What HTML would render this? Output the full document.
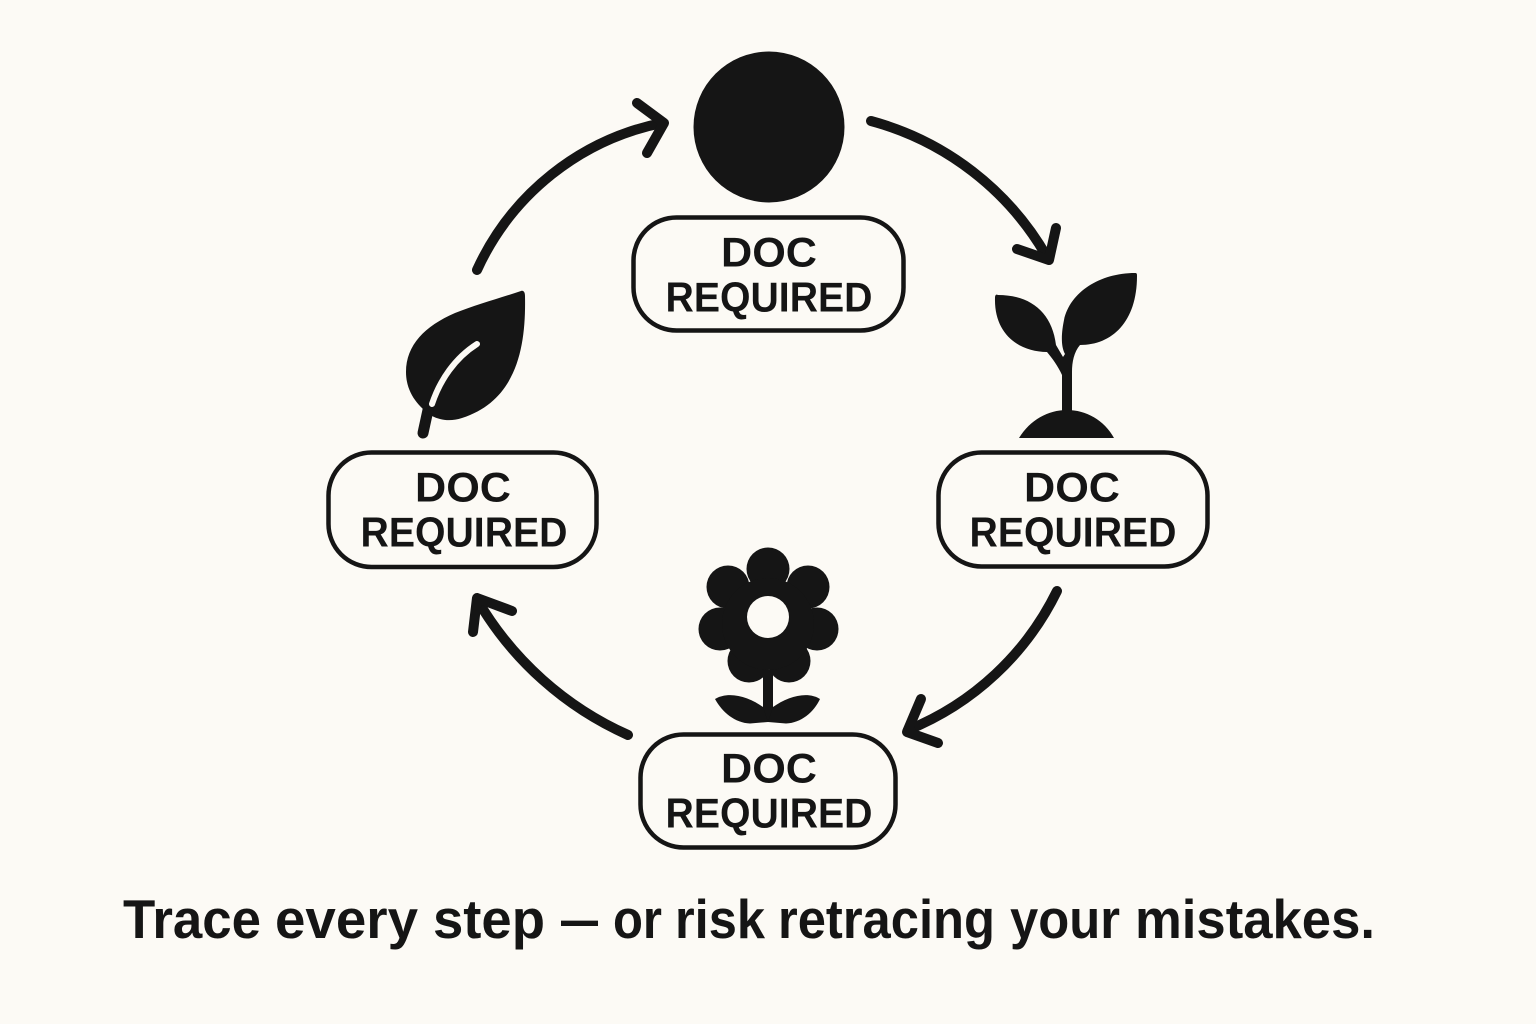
<!DOCTYPE html>
<html>
<head>
<meta charset="utf-8">
<style>
html,body{margin:0;padding:0;background:#fcfaf5;}
svg{display:block;}
text{font-family:"Liberation Sans",sans-serif;font-weight:700;fill:#151515;}
</style>
</head>
<body>
<svg width="1536" height="1024" viewBox="0 0 1536 1024" xmlns="http://www.w3.org/2000/svg">
<rect width="1536" height="1024" fill="#fcfaf5"/>
<!-- Seed -->
<circle cx="769" cy="127" r="75.500" fill="#151515"/>
<!-- Boxes -->
<g fill="none" stroke="#151515" stroke-width="4.500">
<rect x="633.500" y="217.500" width="270" height="113" rx="43"/>
<rect x="938.500" y="452.500" width="269" height="114" rx="43"/>
<rect x="328.500" y="452.500" width="268" height="114.500" rx="43"/>
<rect x="640.500" y="734.500" width="255" height="113" rx="43"/>
</g>
<!-- Box labels -->
<g font-size="41.500" text-anchor="middle">
<text x="769" y="266.500" textLength="96" lengthAdjust="spacingAndGlyphs">DOC</text>
<text x="769" y="311.500" textLength="207" lengthAdjust="spacingAndGlyphs">REQUIRED</text>
<text x="1072" y="501.500" textLength="96" lengthAdjust="spacingAndGlyphs">DOC</text>
<text x="1073" y="546.500" textLength="207" lengthAdjust="spacingAndGlyphs">REQUIRED</text>
<text x="463" y="501.500" textLength="96" lengthAdjust="spacingAndGlyphs">DOC</text>
<text x="464" y="546.500" textLength="207" lengthAdjust="spacingAndGlyphs">REQUIRED</text>
<text x="769" y="782.500" textLength="96" lengthAdjust="spacingAndGlyphs">DOC</text>
<text x="769" y="827.500" textLength="207" lengthAdjust="spacingAndGlyphs">REQUIRED</text>
</g>
<!-- Arrows -->
<g fill="none" stroke="#151515" stroke-width="10" stroke-linecap="round" stroke-linejoin="round">
<path d="M871 121 A290 290 0 0 1 1047 257"/>
<path d="M1056 228 L1049 260 L1017 249"/>
<path d="M1057 591 A285 285 0 0 1 908 730"/>
<path d="M921 699 L907 732 L938 743"/>
<path d="M628 735 A330 330 0 0 1 478 601"/>
<path d="M473 632 L477 598 L512 611"/>
<path d="M477 270 A260 260 0 0 1 662 123"/>
<path d="M637 103 L664 123 L647 153"/>
</g>
<!-- Sprout -->
<g fill="#151515">
<path d="M1019 438 C1030 420 1048 410 1067 410 C1086 410 1104 420 1114 438 Z"/>
<path d="M1062 414 L1062 375 C1058 366 1052 358 1047 352 C1020 352 994 335 995 298 C995 295 996 294 998 295 C1030 295 1052 312 1056 345 L1063 357 L1065 354 C1060 345 1062 330 1064 320 C1070 292 1100 273 1135 273 C1137 273 1137 274 1137 276 C1137 322 1112 345 1080 345 C1074 352 1072 362 1072 372 L1072 414 Z"/>
</g>
<!-- Leaf -->
<path d="M521 291 C524 290 525 293 525 296 C526 345 518 400 462 418 C450 422 440 420 432 416 C420 408 406 394 406 372 C406 345 425 326 455 313 C475 305 500 298 521 291 Z" fill="#151515"/>
<path d="M428 410 L423 433" fill="none" stroke="#151515" stroke-width="11" stroke-linecap="round"/>
<path d="M432 404 C440 380 455 358 477 344" fill="none" stroke="#fcfaf5" stroke-width="6" stroke-linecap="round"/>
<!-- Flower -->
<g fill="#151515">
<circle cx="768" cy="569" r="21.500"/>
<circle cx="728" cy="587" r="21.500"/>
<circle cx="808" cy="587" r="21.500"/>
<circle cx="720" cy="629" r="21.500"/>
<circle cx="817" cy="629" r="21.500"/>
<circle cx="749" cy="661" r="21.500"/>
<circle cx="789" cy="661" r="21.500"/>
<circle cx="768" cy="624" r="46"/>
<rect x="763" y="670" width="10" height="52"/>
<path d="M715 699 C728 691 748 696 763 707 L768 722 L750 723.500 C735 723 722 712 715 699 Z"/>
<path d="M820 699 C808 691 788 696 773 707 L768 722 L786 723.500 C801 723 814 712 820 699 Z"/>
</g>
<circle cx="768" cy="617" r="21" fill="#fcfaf5"/>
<!-- Caption -->
<g font-size="55">
<text x="123" y="938" textLength="138" lengthAdjust="spacingAndGlyphs">Trace</text>
<text x="275" y="938" textLength="143" lengthAdjust="spacingAndGlyphs">every</text>
<text x="433" y="938" textLength="112" lengthAdjust="spacingAndGlyphs">step</text>
<text x="561" y="938" textLength="37" lengthAdjust="spacingAndGlyphs">—</text>
<text x="613" y="938" textLength="49" lengthAdjust="spacingAndGlyphs">or</text>
<text x="675" y="938" textLength="90" lengthAdjust="spacingAndGlyphs">risk</text>
<text x="778" y="938" textLength="217" lengthAdjust="spacingAndGlyphs">retracing</text>
<text x="1010" y="938" textLength="110" lengthAdjust="spacingAndGlyphs">your</text>
<text x="1135" y="938" textLength="240" lengthAdjust="spacingAndGlyphs">mistakes.</text>
</g>
</svg>
</body>
</html>
